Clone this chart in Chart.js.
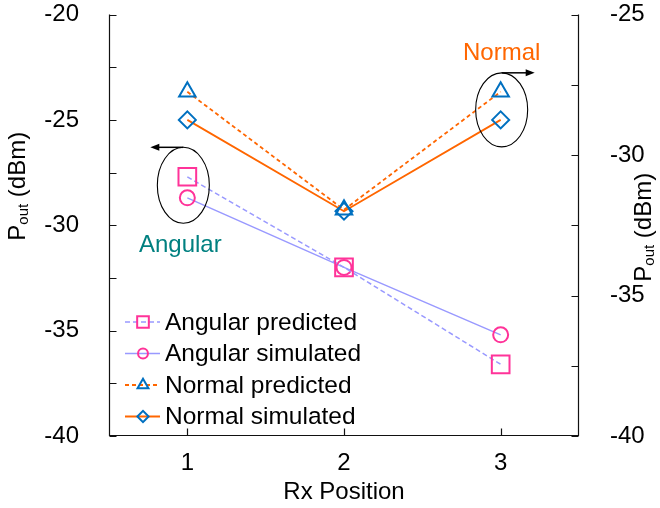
<!DOCTYPE html>
<html>
<head>
<meta charset="utf-8">
<script src="https://cdn.jsdelivr.net/npm/chart.js@4"></script>
<style>
  body { margin: 0; background: #fff; }
  canvas { display: block; }
</style>
</head>
<body>
<canvas id="poutChart" width="660" height="508"></canvas>
<script>
// Rx positions and received power (dBm)
const positions = ['1', '2', '3'];
const angularPredicted = [-27.7, -32.0, -36.6];
const angularSimulated = [-28.7, -32.0, -35.2];
const normalPredicted = [-27.75, -31.95, -27.75];
const normalSimulated = [-28.75, -32.0, -28.75];
const seriesNames = ['Angular predicted', 'Angular simulated', 'Normal predicted', 'Normal simulated'];

const FONT = "'Liberation Sans', Arial, sans-serif";
const PINK = '#FF3399';
const LILAC = '#9999FF';
const ORANGE = '#FF6600';
const BLUE = '#0070C0';
const TEAL = '#008080';

Chart.defaults.font.family = FONT;
Chart.defaults.color = '#000';

// axis lines and inward tick marks
const frame = {
    id: 'frame',
    afterDraw(chart) {
        const { ctx, chartArea: a, scales } = chart;
        const L = Math.round(a.left) + 0.5, R = Math.round(a.right) - 0.5, B = Math.round(a.bottom) - 0.5;
        ctx.save();
        ctx.strokeStyle = '#111';
        ctx.lineWidth = 1.2;
        ctx.beginPath();
        ctx.moveTo(L, a.top); ctx.lineTo(L, B); ctx.lineTo(R, B); ctx.lineTo(R, a.top);
        scales.y.ticks.forEach((t, i) => {
            const py = Math.round(scales.y.getPixelForTick(i)) + 0.5;
            ctx.moveTo(L, py); ctx.lineTo(L + 7, py);
        });
        scales.y2.ticks.forEach((t, i) => {
            const py = Math.round(scales.y2.getPixelForTick(i)) + 0.5;
            ctx.moveTo(R, py); ctx.lineTo(R - 7, py);
        });
        scales.x.ticks.forEach((t, i) => {
            const px = Math.round(scales.x.getPixelForTick(i)) + 0.5;
            ctx.moveTo(px, B); ctx.lineTo(px, B - 7);
        });
        ctx.stroke();
        ctx.restore();
    }
};

// "P_out (dBm)" rotated titles for both y axes
function drawPoutTitle(ctx, cx, cy) {
    ctx.save();
    ctx.translate(cx, cy);
    ctx.rotate(-Math.PI / 2);
    ctx.fillStyle = '#000';
    ctx.textBaseline = 'middle';
    const big = '24px ' + FONT, small = '15px ' + FONT;
    ctx.font = big;
    const wP = ctx.measureText('P').width;
    const wRest = ctx.measureText(' (dBm)').width;
    ctx.font = small;
    const wSub = ctx.measureText('out').width;
    let x = -(wP + wSub + wRest) / 2;
    ctx.font = big;
    ctx.fillText('P', x, 0);
    x += wP;
    ctx.font = small;
    ctx.fillText('out', x, 6);
    x += wSub;
    ctx.font = big;
    ctx.fillText(' (dBm)', x, 0);
    ctx.restore();
}

const yTitles = {
    id: 'yTitles',
    afterDraw(chart) {
        const a = chart.chartArea;
        const mid = (a.top + a.bottom) / 2;
        drawPoutTitle(chart.ctx, 18, mid - 39);
        drawPoutTitle(chart.ctx, 644, mid + 2);
    }
};

// legend in the lower left of the plot
const innerLegend = {
    id: 'innerLegend',
    afterDraw(chart) {
        const { ctx, chartArea: a } = chart;
        ctx.save();
        chart.data.datasets.forEach((ds, i) => {
            const y = a.bottom - 114 + i * 31.5;
            const x0 = a.left + 16;
            ctx.strokeStyle = ds.borderColor;
            ctx.lineWidth = ds.borderWidth;
            ctx.setLineDash(ds.borderDash || []);
            ctx.beginPath();
            ctx.moveTo(x0, y); ctx.lineTo(x0 + 35, y);
            ctx.stroke();
            ctx.setLineDash([]);
            ctx.strokeStyle = ds.pointBorderColor;
            ctx.fillStyle = 'rgba(0,0,0,0)';
            ctx.lineWidth = ds.pointBorderWidth;
            Chart.helpers.drawPoint(ctx, {
                pointStyle: ds.pointStyle,
                radius: ds.pointRadius * 0.66,
                borderWidth: ds.pointBorderWidth,
                rotation: 0
            }, x0 + 18, y);
            ctx.fillStyle = '#000';
            ctx.font = '24.5px ' + FONT;
            ctx.textBaseline = 'middle';
            ctx.fillText(ds.label, x0 + 40, y + 1);
        });
        ctx.restore();
    }
};

// ellipses, arrows and group names
function ellipse(ctx, cx, cy, rx, ry) {
    ctx.beginPath();
    ctx.ellipse(cx, cy, rx, ry, 0, 0, Math.PI * 2);
    ctx.stroke();
}
function arrow(ctx, x1, y, x2) {
    const dir = Math.sign(x2 - x1);
    ctx.beginPath();
    ctx.moveTo(x1, y); ctx.lineTo(x2 - dir * 6, y);
    ctx.stroke();
    ctx.beginPath();
    ctx.moveTo(x2, y);
    ctx.lineTo(x2 - dir * 9, y - 3.5);
    ctx.lineTo(x2 - dir * 9, y + 3.5);
    ctx.closePath();
    ctx.fill();
}

const groupMarks = {
    id: 'groupMarks',
    afterDraw(chart) {
        const { ctx, scales } = chart;
        const x1 = scales.x.getPixelForValue(0), x3 = scales.x.getPixelForValue(2);
        const ay = (scales.y.getPixelForValue(angularPredicted[0]) + scales.y.getPixelForValue(angularSimulated[0])) / 2 - 2;
        const ny = (scales.y2.getPixelForValue(normalPredicted[2]) + scales.y2.getPixelForValue(normalSimulated[2])) / 2 + 4;
        const acx = x1 - 4, ncx = x3 + 1;
        ctx.save();
        ctx.strokeStyle = '#000';
        ctx.fillStyle = '#000';
        ctx.lineWidth = 1.1;
        ellipse(ctx, acx, ay, 26, 38);
        ellipse(ctx, ncx, ny, 26, 37);
        ctx.lineWidth = 1.5;
        arrow(ctx, acx, ay - 38, acx - 33);
        arrow(ctx, ncx, ny - 37, ncx + 33);
        ctx.font = '24px ' + FONT;
        ctx.textAlign = 'center';
        ctx.textBaseline = 'middle';
        ctx.fillStyle = TEAL;
        ctx.fillText('Angular', acx - 3, ay + 60);
        ctx.fillStyle = ORANGE;
        ctx.fillText('Normal', ncx, ny - 56);
        ctx.restore();
    }
};

// keep tick labels from pushing the plot area around
function fixWidth(w) {
    return scale => {
        scale.width = w;
        scale.paddingTop = 0;
        scale.paddingBottom = 0;
    };
}

const ctx = document.getElementById('poutChart').getContext('2d');
new Chart(ctx, {
    type: 'line',
    data: {
        labels: positions,
        datasets: [
            {
                label: seriesNames[0], data: angularPredicted, yAxisID: 'y',
                borderColor: LILAC, borderWidth: 1.5, borderDash: [5, 3],
                pointStyle: 'rect', pointRadius: 12.5, pointBorderWidth: 2,
                pointBorderColor: PINK, pointBackgroundColor: 'rgba(0,0,0,0)'
            },
            {
                label: seriesNames[1], data: angularSimulated, yAxisID: 'y',
                borderColor: LILAC, borderWidth: 1.5,
                pointStyle: 'circle', pointRadius: 7.5, pointBorderWidth: 2,
                pointBorderColor: PINK, pointBackgroundColor: 'rgba(0,0,0,0)'
            },
            {
                label: seriesNames[2], data: normalPredicted, yAxisID: 'y2',
                borderColor: ORANGE, borderWidth: 1.8, borderDash: [4, 3],
                pointStyle: 'triangle', pointRadius: 9.5, pointBorderWidth: 2,
                pointBorderColor: BLUE, pointBackgroundColor: 'rgba(0,0,0,0)'
            },
            {
                label: seriesNames[3], data: normalSimulated, yAxisID: 'y2',
                borderColor: ORANGE, borderWidth: 1.8,
                pointStyle: 'rectRot', pointRadius: 8.5, pointBorderWidth: 2,
                pointBorderColor: BLUE, pointBackgroundColor: 'rgba(0,0,0,0)'
            }
        ]
    },
    options: {
        responsive: false,
        animation: false,
        layout: { padding: { top: 14, left: 0, right: 0, bottom: 0 } },
        plugins: {
            legend: { display: false },
            tooltip: { enabled: false }
        },
        scales: {
            x: {
                type: 'category',
                offset: true,
                grid: { display: false },
                border: { display: false },
                ticks: { font: { size: 24, lineHeight: 1 }, padding: 7, maxRotation: 0 },
                title: { display: true, text: 'Rx Position', font: { size: 24, lineHeight: 1.2 }, padding: { top: 0, bottom: 1 } },
                afterFit(scale) {
                    scale.height = 72;
                    scale.paddingLeft = 0;
                    scale.paddingRight = 0;
                }
            },
            y: {
                position: 'left',
                min: -40, max: -20,
                grid: { display: false },
                border: { display: false },
                ticks: {
                    stepSize: 2.5, padding: 22,
                    font: { size: 24, lineHeight: 1 },
                    callback: v => (v % 5 === 0 ? v : '')
                },
                afterFit: fixWidth(109)
            },
            y2: {
                position: 'right',
                min: -40, max: -25,
                grid: { display: false },
                border: { display: false },
                ticks: {
                    stepSize: 2.5, padding: 23,
                    font: { size: 24, lineHeight: 1 },
                    callback: v => (v % 5 === 0 ? v : '')
                },
                afterFit: fixWidth(81)
            }
        }
    },
    plugins: [frame, yTitles, innerLegend, groupMarks]
});
</script>
</body>
</html>
